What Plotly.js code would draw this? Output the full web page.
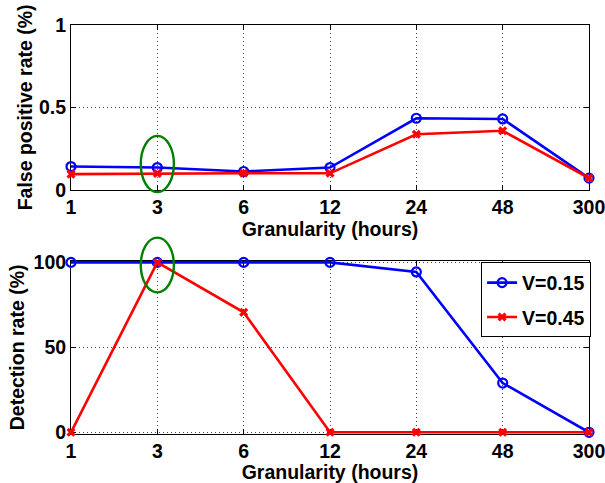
<!DOCTYPE html>
<html>
<head>
<meta charset="utf-8">
<script src="https://cdn.plot.ly/plotly-3.0.1.min.js"></script>
<style>html,body{margin:0;padding:0;background:#fff;}#chart{width:605px;height:483px;}</style>
</head>
<body>
<div id="chart"></div>
<script>
// ---- data ----
var granularity = ['1', '3', '6', '12', '24', '48', '300'];
var seriesNames = ['V=0.15', 'V=0.45'];
var fpr_v015 = [0.141, 0.135, 0.111, 0.135, 0.434, 0.430, 0.071];
var fpr_v045 = [0.095, 0.099, 0.100, 0.100, 0.337, 0.358, 0.071];
var det_v015 = [100, 100, 100, 100, 94.4, 29.0, 0];
var det_v045 = [0, 100, 70.6, 0, 0, 0, 0];
var highlighted = '3';
var fprTicks = [0, 0.5, 1];
var detTicks = [0, 50, 100];

var FONT = {family: '"Liberation Sans", Arial, Helvetica, sans-serif', size: 19.5, color: '#000', weight: 'bold'};
var BLUE = '#0000ff', RED = '#ff0000';

function blueTrace(y, xa, ya, show) {
  return {x: granularity, y: y, xaxis: xa, yaxis: ya, type: 'scatter', mode: 'lines+markers',
    name: seriesNames[0], legendgroup: 'a', showlegend: show, cliponaxis: false,
    line: {color: BLUE, width: 2.6},
    marker: {symbol: 'circle-open', size: 9, color: BLUE, line: {width: 2.2, color: BLUE}}};
}
function redTrace(y, xa, ya, show) {
  return {x: granularity, y: y, xaxis: xa, yaxis: ya, type: 'scatter', mode: 'lines+markers',
    name: seriesNames[1], legendgroup: 'b', showlegend: show, cliponaxis: false,
    line: {color: RED, width: 2.6},
    marker: {symbol: 'x', size: 8, color: RED}};
}

var data = [
  blueTrace(fpr_v015, 'x', 'y', false),
  redTrace(fpr_v045, 'x', 'y', false),
  blueTrace(det_v015, 'x2', 'y2', true),
  redTrace(det_v045, 'x2', 'y2', true)
];

function xAxis(anchor) {
  return {type: 'category', anchor: anchor, range: [0, granularity.length - 1],
    tickfont: FONT, title: {text: 'Granularity (hours)', font: FONT, standoff: 0},
    showline: true, linecolor: '#000', linewidth: 1, mirror: 'allticks', layer: 'below traces',
    ticks: 'inside', ticklen: 5, tickcolor: '#000',
    showgrid: true, gridcolor: '#444', griddash: '1px,3px', gridwidth: 1,
    zeroline: false, automargin: false, fixedrange: true};
}
function yAxis(anchor, domain, range, ticks, title, standoff) {
  return {anchor: anchor, domain: domain, range: range, tickvals: ticks,
    tickfont: FONT, title: {text: title, font: FONT, standoff: standoff},
    showline: true, linecolor: '#000', linewidth: 1, mirror: 'allticks', layer: 'below traces',
    ticks: 'inside', ticklen: 5, tickcolor: '#000',
    showgrid: true, gridcolor: '#444', griddash: '1px,3px', gridwidth: 1,
    zeroline: false, automargin: false, fixedrange: true};
}

var idx = granularity.indexOf(highlighted);
var cx = idx / (granularity.length - 1);
var hw = 0.032;

var layout = {
  width: 605, height: 483,
  margin: {l: 71, r: 16, t: 25, b: 48.5},
  paper_bgcolor: '#fff', plot_bgcolor: '#fff',
  font: FONT,
  xaxis: xAxis('y'),
  yaxis: yAxis('x', [0.5971, 1], [0, 1], fprTicks, 'False positive rate (%)', 1),
  xaxis2: xAxis('y2'),
  yaxis2: yAxis('x2', [0, 0.4237], [-1, 101], detTicks, 'Detection rate (%)', 3.5),
  legend: {x: 1.004, xanchor: 'right', y: 0.4195, yanchor: 'top', bgcolor: '#fff',
    bordercolor: '#000', borderwidth: 1, font: FONT, tracegroupgap: 6, traceorder: 'grouped'},
  shapes: [
    {type: 'circle', xref: 'x domain', yref: 'y domain', x0: cx - hw, x1: cx + hw, y0: -0.014, y1: 0.327,
      line: {color: '#008000', width: 2.4}},
    {type: 'circle', xref: 'x2 domain', yref: 'y2 domain', x0: cx - hw, x1: cx + hw, y0: 0.817, y1: 1.133,
      line: {color: '#008000', width: 2.4}}
  ],
  showlegend: true
};

Plotly.newPlot('chart', data, layout, {displayModeBar: false, staticPlot: true});
</script>
</body>
</html>
